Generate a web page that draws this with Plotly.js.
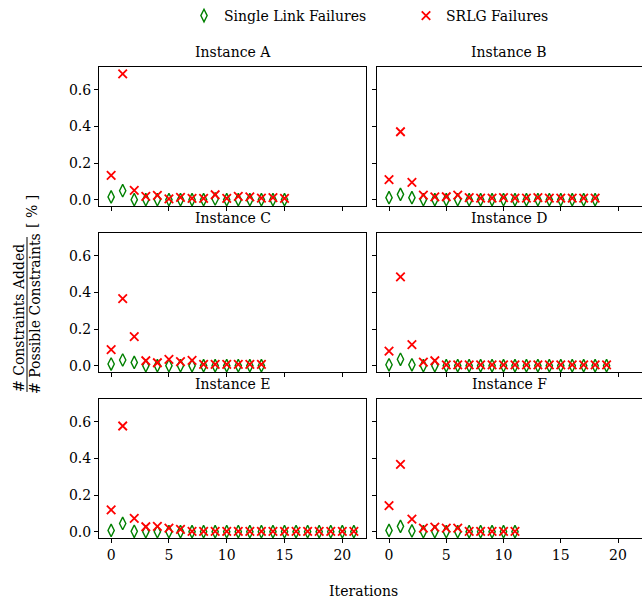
<!DOCTYPE html>
<html>
<head>
<meta charset="utf-8">
<script src="https://cdn.plot.ly/plotly-3.0.1.min.js"></script>
<style>html,body{margin:0;padding:0;background:#fff;}#chart{width:642px;height:598px;}</style>
</head>
<body>
<div id="chart"></div>
<script>
// Panel titles
const instances = ["Instance A", "Instance B", "Instance C", "Instance D", "Instance E", "Instance F"];
const seriesNames = ["Single Link Failures", "SRLG Failures"];
const xTicks = [0, 5, 10, 15, 20];
const yTicks = [0.0, 0.2, 0.4, 0.6];
const xLabel = "Iterations";

// Single link failures (fraction of possible constraints added per iteration)
const singleA = [0.015, 0.049, 0.0, 0.0, 0.0, 0.0, 0.0, 0.0, 0.0, 0.004, 0.0, 0.0, 0.0, 0.0, 0.0, 0.0];
const singleB = [0.011, 0.029, 0.011, 0.0, 0.0, 0.0, 0.0, 0.0, 0.0, 0.0, 0.0, 0.0, 0.0, 0.0, 0.0, 0.0, 0.0, 0.0, 0.0];
const singleC = [0.009, 0.031, 0.018, 0.0, 0.0, 0.0, 0.0, 0.0, 0.0, 0.0, 0.0, 0.0, 0.0, 0.0];
const singleD = [0.005, 0.035, 0.005, 0.0, 0.0, 0.0, 0.0, 0.0, 0.0, 0.0, 0.0, 0.0, 0.0, 0.0, 0.0, 0.0, 0.0, 0.0, 0.0, 0.0];
const singleE = [0.007, 0.045, 0.002, 0.0, 0.0, 0.0, 0.0, 0.0, 0.0, 0.0, 0.0, 0.0, 0.0, 0.0, 0.0, 0.0, 0.0, 0.0, 0.0, 0.0, 0.0, 0.0];
const singleF = [0.007, 0.029, 0.004, 0.0, 0.0, 0.0, 0.0, 0.0, 0.0, 0.0, 0.0, 0.0];

// SRLG failures
const srlgA = [0.133, 0.687, 0.051, 0.018, 0.024, 0.004, 0.013, 0.007, 0.007, 0.027, 0.007, 0.018, 0.015, 0.009, 0.011, 0.007];
const srlgB = [0.109, 0.371, 0.095, 0.025, 0.015, 0.016, 0.025, 0.011, 0.008, 0.008, 0.011, 0.008, 0.008, 0.011, 0.008, 0.008, 0.008, 0.008, 0.008];
const srlgC = [0.088, 0.366, 0.159, 0.027, 0.016, 0.035, 0.022, 0.029, 0.007, 0.007, 0.007, 0.007, 0.007, 0.007];
const srlgD = [0.080, 0.485, 0.115, 0.020, 0.027, 0.004, 0.004, 0.004, 0.004, 0.004, 0.004, 0.004, 0.004, 0.004, 0.004, 0.004, 0.004, 0.004, 0.004, 0.004];
const srlgE = [0.119, 0.577, 0.073, 0.027, 0.029, 0.020, 0.013, 0.002, 0.002, 0.002, 0.002, 0.002, 0.002, 0.002, 0.002, 0.002, 0.002, 0.002, 0.002, 0.002, 0.002, 0.002];
const srlgF = [0.142, 0.367, 0.069, 0.020, 0.025, 0.020, 0.020, 0.002, 0.002, 0.002, 0.002, 0.002];

const singles = [singleA, singleB, singleC, singleD, singleE, singleF];
const srlgs = [srlgA, srlgB, srlgC, srlgD, srlgE, srlgF];

const W = 642, H = 598;
const FONT = "DejaVu Serif";
const colX = [[99, 366], [377, 641.5]];
const rowY = [[67, 206], [233, 372], [399, 538]];

const traces = [];
const layout = {
  width: W, height: H,
  margin: {l: 0, r: 0, t: 0, b: 0, autoexpand: false},
  paper_bgcolor: "#fff", plot_bgcolor: "#fff",
  font: {family: FONT, size: 14, color: "#000"},
  showlegend: true,
  legend: {orientation: "h", x: 184 / W, xanchor: "left", y: 1 - 16 / H, yanchor: "middle",
           font: {family: FONT, size: 14}, entrywidth: 177, entrywidthmode: "pixels",
           itemclick: false, bgcolor: "rgba(0,0,0,0)"},
  annotations: [], shapes: []
};

for (let i = 0; i < 6; i++) {
  const col = i % 2, row = Math.floor(i / 2);
  const n = i + 1;
  const xa = "xaxis" + (n === 1 ? "" : n), ya = "yaxis" + (n === 1 ? "" : n);
  const xr = "x" + (n === 1 ? "" : n), yr = "y" + (n === 1 ? "" : n);
  const xs = singles[i].map((_, k) => k);
  const xs2 = srlgs[i].map((_, k) => k);
  traces.push({
    type: "scatter", mode: "markers", x: xs, y: singles[i], xaxis: xr, yaxis: yr,
    name: seriesNames[0], showlegend: i === 0, legendgroup: "s",
    marker: {symbol: "diamond-tall-open", size: 9, color: "green", line: {width: 1.4, color: "green"}},
    cliponaxis: false
  });
  traces.push({
    type: "scatter", mode: "markers", x: xs2, y: srlgs[i], xaxis: xr, yaxis: yr,
    name: seriesNames[1], showlegend: i === 0, legendgroup: "r",
    marker: {symbol: "x-thin-open", size: 8.5, color: "#ff0000", line: {width: 1.8, color: "#ff0000"}},
    cliponaxis: false
  });
  layout[xa] = {
    domain: [colX[col][0] / W, colX[col][1] / W],
    anchor: yr, range: [-1.05, 22.05], tickvals: xTicks, ticktext: xTicks.map(String),
    showticklabels: row === 2, ticks: "outside", ticklen: 4, tickwidth: 1, tickcolor: "#000",
    showline: true, mirror: true, linecolor: "#000", linewidth: 1, showgrid: false, zeroline: false,
    tickfont: {family: FONT, size: 14}, automargin: false
  };
  layout[ya] = {
    domain: [1 - rowY[row][1] / H, 1 - rowY[row][0] / H],
    anchor: xr, range: [-0.0345, 0.7245], tickvals: yTicks, ticktext: yTicks.map(v => v.toFixed(1)),
    showticklabels: col === 0, ticks: "outside", ticklen: 4, tickwidth: 1, tickcolor: "#000",
    showline: true, mirror: true, linecolor: "#000", linewidth: 1, showgrid: false, zeroline: false,
    tickfont: {family: FONT, size: 14}, automargin: false
  };
  layout.annotations.push({
    text: instances[i], xref: "paper", yref: "paper",
    x: (colX[col][0] + colX[col][1]) / 2 / W, y: 1 - (rowY[row][0] - 15) / H,
    xanchor: "center", yanchor: "middle", showarrow: false, font: {family: FONT, size: 14}
  });
}

// x-axis label
layout.annotations.push({text: xLabel, xref: "paper", yref: "paper", x: 363 / W, y: 1 - 591 / H,
  xanchor: "center", yanchor: "middle", showarrow: false, font: {family: FONT, size: 14}});
// y-axis label as a fraction
layout.annotations.push({text: "# Constraints Added", xref: "paper", yref: "paper", x: 19 / W, y: 1 - 318 / H,
  xanchor: "center", yanchor: "middle", textangle: -90, showarrow: false, font: {family: FONT, size: 14}});
layout.annotations.push({text: "# Possible Constraints", xref: "paper", yref: "paper", x: 35 / W, y: 1 - 314 / H,
  xanchor: "center", yanchor: "middle", textangle: -90, showarrow: false, font: {family: FONT, size: 14}});
layout.annotations.push({text: "[ % ]", xref: "paper", yref: "paper", x: 32 / W, y: 1 - 212 / H,
  xanchor: "center", yanchor: "middle", textangle: -90, showarrow: false, font: {family: FONT, size: 14}});
layout.shapes.push({type: "line", xref: "paper", yref: "paper", x0: 27 / W, x1: 27 / W,
  y0: 1 - 237 / H, y1: 1 - 392 / H, line: {color: "#000", width: 1}});

Plotly.newPlot("chart", traces, layout, {staticPlot: true, displayModeBar: false});
</script>
</body>
</html>
